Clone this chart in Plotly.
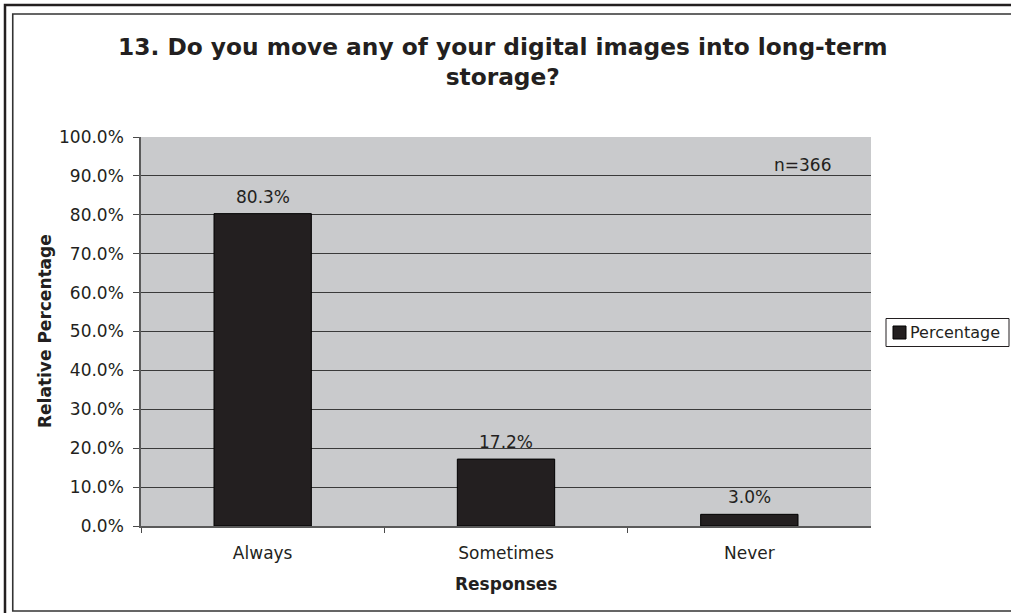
import plotly.graph_objects as go

# Survey responses (relative percentage of n=366)
categories = ["Always", "Sometimes", "Never"]
percentages = [80.3, 17.2, 3.0]
series_name = "Percentage"
sample_note = "n=366"
title_text = "13. Do you move any of your digital images into long-term<br>storage?"
x_title = "Responses"
y_title = "Relative Percentage"

W, H = 1011, 613
FONT = "DejaVu Sans"
INK = "#231f20"


def px(x):
    return x / W


def py(y):
    return 1 - y / H


fig = go.Figure()
fig.add_trace(go.Bar(
    x=categories,
    y=percentages,
    name=series_name,
    marker=dict(color=INK, line=dict(color="#000000", width=1)),
    showlegend=False,
    hoverinfo="x+y",
))

annotations = []
# value labels above each bar
for c, v in zip(categories, percentages):
    annotations.append(dict(
        x=c, y=v, xref="x", yref="y", text=f"{v:.1f}%",
        showarrow=False, yanchor="bottom", yshift=5,
        font=dict(family=FONT, size=17, color=INK),
    ))

annotations += [
    dict(x=px(502.5), y=py(31), xref="paper", yref="paper", text=f"<b>{title_text}</b>",
         showarrow=False, xanchor="center", yanchor="top",
         font=dict(family=FONT, size=23.3, color=INK)),
    dict(x=px(506), y=py(584), xref="paper", yref="paper", text=f"<b>{x_title}</b>",
         showarrow=False, xanchor="center", yanchor="middle",
         font=dict(family=FONT, size=17, color=INK)),
    dict(x=px(45), y=py(331), xref="paper", yref="paper", text=f"<b>{y_title}</b>",
         showarrow=False, xanchor="center", yanchor="middle", textangle=-90,
         font=dict(family=FONT, size=17, color=INK)),
    dict(x=px(802), y=py(165), xref="paper", yref="paper", text=sample_note,
         showarrow=False, xanchor="center", yanchor="middle",
         font=dict(family=FONT, size=17, color=INK)),
    # legend label
    dict(x=px(908), y=py(332.5), xref="paper", yref="paper", text=series_name,
         showarrow=False, xanchor="left", yanchor="middle",
         font=dict(family=FONT, size=16, color=INK)),
]

shapes = [
    # outer frame
    dict(type="rect", xref="paper", yref="paper",
         x0=px(5), x1=px(1030), y0=py(5), y1=py(630),
         line=dict(color=INK, width=2.5), fillcolor="rgba(0,0,0,0)"),
    # inner frame
    dict(type="rect", xref="paper", yref="paper",
         x0=px(12.75), x1=px(1020), y0=py(14), y1=py(611),
         line=dict(color="#333333", width=1.6), fillcolor="rgba(0,0,0,0)"),
    # legend box
    dict(type="rect", xref="paper", yref="paper",
         x0=px(886), x1=px(1009), y0=py(318.5), y1=py(346.5),
         line=dict(color=INK, width=1), fillcolor="white"),
    # legend swatch
    dict(type="rect", xref="paper", yref="paper",
         x0=px(893), x1=px(906), y0=py(326), y1=py(339),
         line=dict(color="#000000", width=1), fillcolor=INK),
]

fig.update_layout(
    width=W, height=H,
    margin=dict(l=0, r=0, t=0, b=0, pad=0, autoexpand=False),
    paper_bgcolor="white",
    plot_bgcolor="#c9cacc",
    bargap=0.6,
    font=dict(family=FONT, size=17, color=INK),
    annotations=annotations,
    shapes=shapes,
    xaxis=dict(
        domain=[px(141), px(871)],
        type="category",
        automargin=False,
        tickson="boundaries",
        ticks="outside", ticklen=5, tickcolor="#4a4a4a", tickwidth=1.2,
        showline=True, linecolor="#5a5a5a", linewidth=1.5,
        showgrid=False,
        tickfont=dict(family=FONT, size=17, color=INK),
        ticklabelstandoff=11,
    ),
    yaxis=dict(
        domain=[py(526), py(137)],
        range=[0, 100],
        automargin=False,
        dtick=10,
        tickformat=".1f", ticksuffix="%",
        ticks="outside", ticklen=6, tickcolor="#4a4a4a", tickwidth=1.2,
        showline=True, linecolor="#5a5a5a", linewidth=1.5,
        showgrid=True, gridcolor="#3a3a3a", gridwidth=1,
        zeroline=False,
        tickfont=dict(family=FONT, size=17, color=INK),
        ticklabelstandoff=6,
    ),
)

fig.write_html("out.html")
